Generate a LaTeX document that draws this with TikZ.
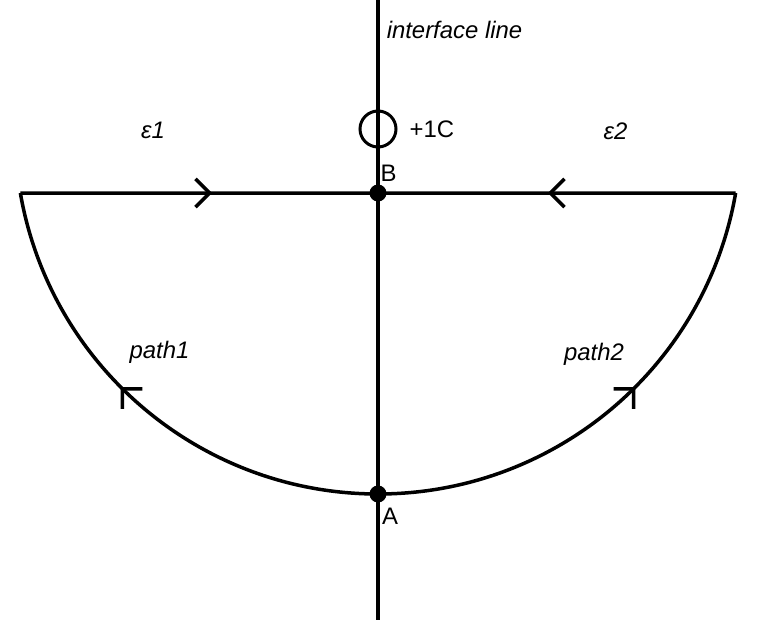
\documentclass[tikz,border=0pt]{standalone}
\usepackage{fontspec}
\setmainfont{Liberation Sans}
\usetikzlibrary{
    arrows.meta,
    positioning,
    decorations.markings,
}

\begin{document}
\begin{tikzpicture}[
        x=0.02cm, y=0.02cm,
        node distance=0.2cm and 0.2cm,
        wire/.style={line width=0.07cm, black},
        dot/.style={circle, fill=black, inner sep=0pt, minimum size=0.34cm},
        charge/.style={circle, draw=black, line width=0.06cm, inner sep=0pt, minimum size=0.72cm},
        lbl/.style={font=\fontsize{13.6}{16}\selectfont\itshape, inner sep=1pt},
        pt/.style={font=\fontsize{13.6}{16}\selectfont, inner sep=1pt},
        barb/.style={
            decoration={markings, mark=at position #1 with {\arrow{Straight Barb[angle=90:0.4cm]}}},
            postaction={decorate}
        },
    ]
    \useasboundingbox (0,0) rectangle (758,620);

    % ── Points ──
    \coordinate (top) at (378,620);
    \coordinate (bot) at (378,0);
    \node[dot] (B) at (378,427) {};
    \node[dot] (A) at (378,126) {};
    \node[charge] (q) at (378,491) {};

    % ── Interface line ──
    \draw[wire] (top) -- (bot);

    % ── Paths ──
    \draw[wire, barb=0.563] (A.center) arc[start angle=270, end angle=189.84, radius=363] coordinate (L);
    \draw[wire, barb=0.563] (A.center) arc[start angle=270, end angle=350.16, radius=363] coordinate (R);
    \draw[wire, barb=0.536] (L) -- (B.center);
    \draw[wire, barb=0.525] (R) -- (B.center);

    % ── Labels ──
    \node[lbl] (iface) at (454.5,590) {interface line};
    \node[pt, right=of q] (qlbl) {+1C};
    \node[pt] (Blbl) at (388.5,447) {B};
    \node[pt] (Albl) at (390,104) {A};
    \node[lbl] (eps1) at (153,489.5) {ε1};
    \node[lbl] (eps2) at (615.5,489) {ε2};
    \node[lbl] (p1) at (159.5,268) {path1};
    \node[lbl] (p2) at (594,266) {path2};

    \end{tikzpicture}
\end{document}
